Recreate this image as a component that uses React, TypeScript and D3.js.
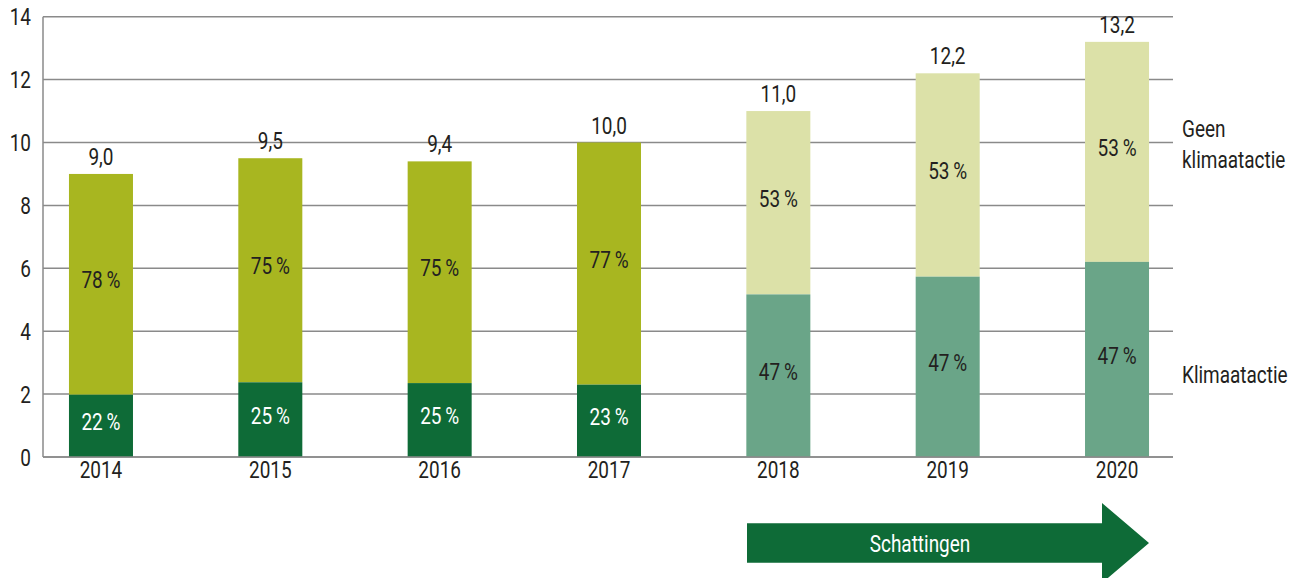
import React from "react";
import * as d3 from "d3";

const years = ["2014", "2015", "2016", "2017", "2018", "2019", "2020"];
const totals = [9.0, 9.5, 9.4, 10.0, 11.0, 12.2, 13.2];
const climateShare = [22, 25, 25, 23, 47, 47, 47];
const otherShare = [78, 75, 75, 77, 53, 53, 53];
const estimated = [false, false, false, false, true, true, true];
const yTicks = [0, 2, 4, 6, 8, 10, 12, 14];
const legendTop = ["Geen", "klimaatactie"];
const legendBottom = "Klimaatactie";
const arrowLabel = "Schattingen";

const W = 1299;
const H = 578;
const FONT = "Roboto, 'Noto Sans', sans-serif";
const TEXT = "#231f20";
const GRID = "#8a8a8a";
const C_DARK = "#0e6b37";
const C_OLIVE = "#a8b620";
const C_LIGHT = "#dce1a8";
const C_TEAL = "#6aa588";
const SX = 0.79;

function T(props: {
  x: number;
  y: number;
  anchor?: "start" | "middle" | "end";
  size?: number;
  fill?: string;
  dy?: string;
  children: React.ReactNode;
}) {
  const { x, y, anchor = "start", size = 24, fill = TEXT, dy, children } = props;
  return (
    <text
      transform={`translate(${x},${y}) scale(${SX},1)`}
      textAnchor={anchor}
      fontSize={size}
      fill={fill}
      dy={dy}
    >
      {children}
    </text>
  );
}

export default function App() {
  const y = d3.scaleLinear().domain([0, 14]).range([457, 16.7]);
  const x = d3
    .scaleBand<string>()
    .domain(years)
    .range([16.3, 1201.7])
    .paddingInner(0.622)
    .paddingOuter(0.311);
  const gridX0 = 43;
  const gridX1 = 1173;
  const bw = x.bandwidth();
  const fmt = (v: number) => v.toFixed(1).replace(".", ",");

  return (
    <svg
      width={W}
      height={H}
      style={{ position: "absolute", left: 0, top: 0 }}
      fontFamily={FONT}
    >
      <rect x={0} y={0} width={W} height={H} fill="#fff" />
      {yTicks.map((t) => (
        <g key={t}>
          <line x1={gridX0} x2={gridX1} y1={y(t)} y2={y(t)} stroke={GRID} strokeWidth={1.5} />
          <T x={31} y={y(t)} dy="0.36em" anchor="end">
            {t}
          </T>
        </g>
      ))}
      <line x1={gridX0} x2={gridX0} y1={y(14)} y2={y(0)} stroke={GRID} strokeWidth={1.5} />
      {years.map((yr, i) => {
        const x0 = x(yr)!;
        const cx = x0 + bw / 2;
        const total = totals[i];
        const low = (total * climateShare[i]) / 100;
        const lowColor = estimated[i] ? C_TEAL : C_DARK;
        const highColor = estimated[i] ? C_LIGHT : C_OLIVE;
        const lowText = estimated[i] ? TEXT : "#ffffff";
        return (
          <g key={yr}>
            <rect x={x0} y={y(total)} width={bw} height={y(low) - y(total)} fill={highColor} />
            <rect x={x0} y={y(low)} width={bw} height={y(0) - y(low)} fill={lowColor} />
            <T x={cx} y={y(total) - 9} anchor="middle">
              {fmt(total)}
            </T>
            <T x={cx} y={(y(total) + y(low)) / 2} dy="0.17em" anchor="middle">
              {otherShare[i] + "\u2009%"}
            </T>
            <T x={cx} y={(y(low) + y(0)) / 2} dy="0.17em" anchor="middle" fill={lowText}>
              {climateShare[i] + "\u2009%"}
            </T>
            <T x={cx} y={478} anchor="middle">
              {yr}
            </T>
          </g>
        );
      })}
      <line x1={gridX0} x2={gridX1} y1={y(0)} y2={y(0)} stroke={GRID} strokeWidth={1.5} />
      <T x={1182} y={137}>{legendTop[0]}</T>
      <T x={1182} y={168}>{legendTop[1]}</T>
      <T x={1182} y={383}>{legendBottom}</T>
      <path
        d={`M747,523.3 L1102,523.3 L1102,503 L1149,543 L1102,583 L1102,562.7 L747,562.7 Z`}
        fill={C_DARK}
      />
      <T x={920} y={543} dy="0.36em" anchor="middle" fill="#fff">
        {arrowLabel}
      </T>
    </svg>
  );
}
